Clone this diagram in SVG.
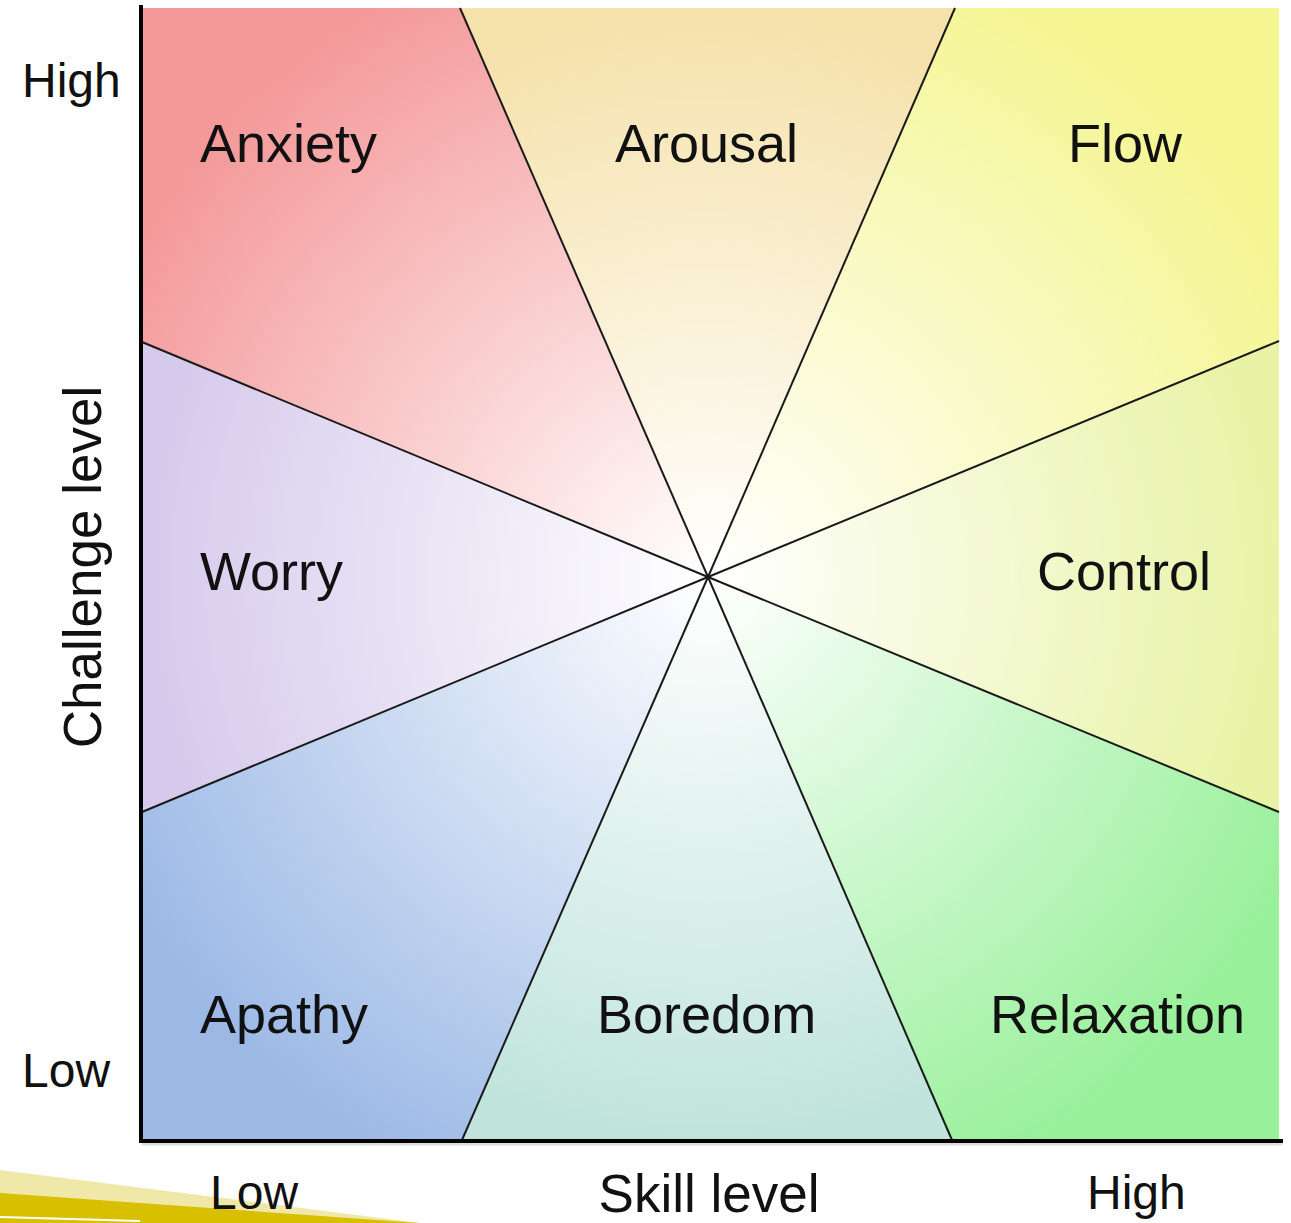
<svg xmlns="http://www.w3.org/2000/svg" width="1291" height="1223" viewBox="0 0 1291 1223">
<style>
.lbl{font-family:"Liberation Sans",Arial,sans-serif;font-size:54px;fill:#111}
.ax{font-family:"Liberation Sans",Arial,sans-serif;font-size:48px;fill:#111}
.ttl{font-family:"Liberation Sans",Arial,sans-serif;font-size:53px;fill:#111}
.div{stroke:#1a1a1a;stroke-width:2;fill:none}
.axis{stroke:#000;stroke-width:4;fill:none;stroke-linecap:square}
</style>
<defs>
<radialGradient id="gAnx" gradientUnits="userSpaceOnUse" cx="708" cy="577" r="660"><stop offset="0" stop-color="#fff"/><stop offset="1" stop-color="#f4999a"/></radialGradient>
<radialGradient id="gAro" gradientUnits="userSpaceOnUse" cx="708" cy="577" r="570"><stop offset="0" stop-color="#fff"/><stop offset="1" stop-color="#f5e1aa"/></radialGradient>
<radialGradient id="gFlo" gradientUnits="userSpaceOnUse" cx="708" cy="577" r="660"><stop offset="0" stop-color="#fff"/><stop offset="1" stop-color="#f5f592"/></radialGradient>
<radialGradient id="gCon" gradientUnits="userSpaceOnUse" cx="708" cy="577" r="571"><stop offset="0" stop-color="#fff"/><stop offset="1" stop-color="#e8f3a6"/></radialGradient>
<radialGradient id="gRel" gradientUnits="userSpaceOnUse" cx="708" cy="577" r="660"><stop offset="0" stop-color="#fff"/><stop offset="1" stop-color="#98f09a"/></radialGradient>
<radialGradient id="gBor" gradientUnits="userSpaceOnUse" cx="708" cy="577" r="563"><stop offset="0" stop-color="#fff"/><stop offset="1" stop-color="#c0e4dc"/></radialGradient>
<radialGradient id="gApa" gradientUnits="userSpaceOnUse" cx="708" cy="577" r="660"><stop offset="0" stop-color="#fff"/><stop offset="1" stop-color="#9cb9e6"/></radialGradient>
<radialGradient id="gWor" gradientUnits="userSpaceOnUse" cx="708" cy="577" r="566"><stop offset="0" stop-color="#fff"/><stop offset="1" stop-color="#d6caec"/></radialGradient>
</defs>
<rect width="1291" height="1223" fill="#fff"/>
<g id="decoration">
<polygon points="0,1170 420,1223 0,1223" fill="#f0e8a8"/>
<polygon points="0,1193 420,1223 0,1223" fill="#d8c000"/>
<line x1="0" y1="1217" x2="140" y2="1221" stroke="#fff" stroke-width="2"/>
</g>
<g id="anxiety"><polygon points="708,577 142,342 142,8 460,8" fill="url(#gAnx)"/><text class="lbl" x="200" y="162">Anxiety</text></g>
<g id="arousal"><polygon points="708,577 460,8 955,8" fill="url(#gAro)"/><text class="lbl" x="615" y="162">Arousal</text></g>
<g id="flow"><polygon points="708,577 955,8 1279,8 1279,341" fill="url(#gFlo)"/><text class="lbl" x="1068" y="162">Flow</text></g>
<g id="control"><polygon points="708,577 1279,341 1279,812" fill="url(#gCon)"/><text class="lbl" x="1037" y="590">Control</text></g>
<g id="relaxation"><polygon points="708,577 1279,812 1279,1140 952,1140" fill="url(#gRel)"/><text class="lbl" x="990" y="1033">Relaxation</text></g>
<g id="boredom"><polygon points="708,577 952,1140 462,1140" fill="url(#gBor)"/><text class="lbl" x="597" y="1033">Boredom</text></g>
<g id="apathy"><polygon points="708,577 462,1140 142,1140 142,812" fill="url(#gApa)"/><text class="lbl" x="200" y="1033">Apathy</text></g>
<g id="worry"><polygon points="708,577 142,812 142,342" fill="url(#gWor)"/><text class="lbl" x="200" y="590">Worry</text></g>
<g id="connectors">
<line class="div" x1="708" y1="577" x2="460" y2="8"/>
<line class="div" x1="708" y1="577" x2="955" y2="8"/>
<line class="div" x1="708" y1="577" x2="1279" y2="341"/>
<line class="div" x1="708" y1="577" x2="1279" y2="812"/>
<line class="div" x1="708" y1="577" x2="952" y2="1140"/>
<line class="div" x1="708" y1="577" x2="462" y2="1140"/>
<line class="div" x1="708" y1="577" x2="142" y2="812"/>
<line class="div" x1="708" y1="577" x2="142" y2="342"/>
</g>
<g id="axes">
<line x1="142" y1="1144" x2="1282" y2="1144" stroke="#ddd" stroke-width="3"/>
<polyline class="axis" points="141,7 141,1141 1281,1141"/>
</g>
<g id="axis-labels">
<text class="ax" x="22" y="97">High</text>
<text class="ax" x="22" y="1087">Low</text>
<text class="ax" x="210" y="1209">Low</text>
<text class="ttl" x="709" y="1212" text-anchor="middle">Skill level</text>
<text class="ax" x="1087" y="1209">High</text>
<text class="ttl" transform="translate(101,567) rotate(-90)" text-anchor="middle">Challenge level</text>
</g>
</svg>
